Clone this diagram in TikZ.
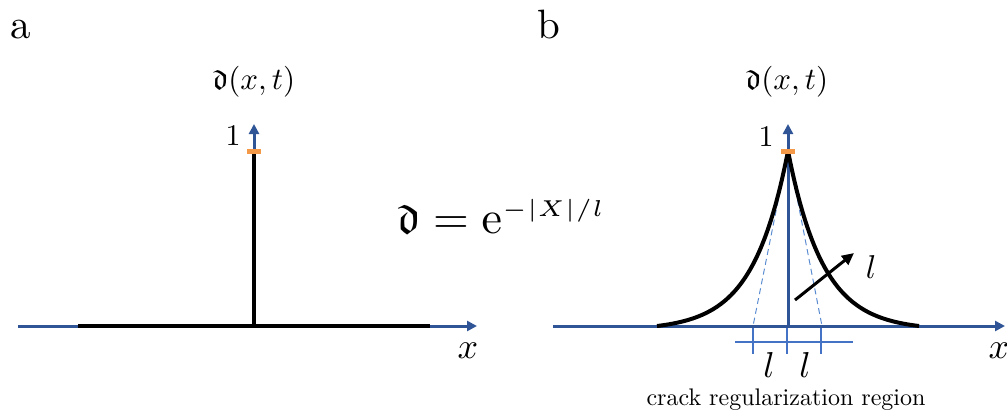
\documentclass[tikz,border=0pt]{standalone}
\usepackage{graphicx}
\usepackage{amssymb}
\usetikzlibrary{arrows.meta}
\definecolor{axisblue}{RGB}{47,85,151}
\definecolor{tickblue}{RGB}{68,114,196}
\definecolor{dashblue}{RGB}{91,140,210}
\definecolor{markorange}{RGB}{244,153,72}
\tikzset{
  axisline/.style={draw=axisblue, line width=1.5pt, -{Triangle[length=5pt,width=5pt]}},
  blackline/.style={draw=black, line width=2.2pt},
  orangemark/.style={draw=markorange, line width=2.5pt},
  ticklines/.style={draw=tickblue, line width=1pt},
  dashline/.style={draw=dashblue, line width=0.5pt, dash pattern=on 3pt off 2pt},
  curveline/.style={draw=black, line width=2pt, line join=round},
  larrow/.style={draw=black, line width=1.5pt, -{Triangle[length=6pt,width=5.5pt]}},
  lbl/.style={inner sep=0pt, anchor=base},
}
\newcommand{\sz}[2]{\scalebox{#1}{#2}}
\begin{document}
\begin{tikzpicture}[x=0.5pt,y=-0.5pt]
\useasboundingbox (0,0) rectangle (1007,414);
% ---------- panel a ----------
\node[lbl] (la) at (21,38) {\sz{2.05}{a}};
\coordinate (aL) at (18,326);
\coordinate (aR) at (477,326);
\coordinate (aO) at (254,326);
\coordinate (aT) at (254,124);
\coordinate (aP) at (254,151);
\coordinate (aB1) at (78,326);
\coordinate (aB2) at (430,326);
\coordinate (aM1) at (247,151);
\coordinate (aM2) at (261,151);
\draw[axisline] (aL) -- (aR);
\draw[axisline] (aO) -- (aT);
\draw[blackline] (aB1) -- (aB2);
\draw[blackline] (aO) -- (aP);
\draw[orangemark] (aM1) -- (aM2);
\node[lbl] (ya) at (254,89) {\sz{1.55}{$\mathfrak{d}(x,t)$}};
\node[lbl] (onea) at (233,145) {\sz{1.5}{$1$}};
\node[lbl] (xa) at (468,358) {\sz{1.8}{$x$}};
% ---------- formula ----------
\node[inner sep=0pt, anchor=base west] (eq) at (397,233)
  {\sz{2.3}{$\mathfrak{d} = \mathrm{e}^{\scriptscriptstyle -|X|/l}$}};
% ---------- panel b ----------
\node[lbl] (lb) at (549,38) {\sz{2.05}{b}};
\coordinate (bL) at (553,326);
\coordinate (bR) at (1005,326);
\coordinate (bO) at (788,326);
\coordinate (bT) at (788,124);
\coordinate (bP) at (788,151);
\coordinate (bM1) at (781,151);
\coordinate (bM2) at (795,151);
\coordinate (dL) at (753,326);
\coordinate (dR) at (822,326);
% dashed tangents
\draw[dashline] (bP) -- (dL);
\draw[dashline] (bP) -- (dR);
% ticks
\coordinate (tH1) at (735,342);
\coordinate (tH2) at (853,342);
\coordinate (t1a) at (753,326);
\coordinate (t1b) at (753,354);
\coordinate (t2a) at (787,326);
\coordinate (t2b) at (787,354);
\coordinate (t3a) at (821,326);
\coordinate (t3b) at (821,354);
\draw[ticklines] (tH1) -- (tH2);
\draw[ticklines] (t1a) -- (t1b);
\draw[ticklines] (t2a) -- (t2b);
\draw[ticklines] (t3a) -- (t3b);
% axes
\draw[axisline] (bL) -- (bR);
\draw[axisline] (bO) -- (bT);
% curve
\draw[curveline] plot[domain=-131:0, samples=90] ({788+\x},{326-179.3*(exp(\x/35)-0.0237)})
  -- plot[domain=0:131, samples=90] ({788+\x},{326-179.3*(exp(-\x/35)-0.0237)});
\draw[orangemark] (bM1) -- (bM2);
% l arrow
\coordinate (lA) at (795,300);
\coordinate (lB) at (854,253);
\draw[larrow] (lA) -- (lB);
\node[lbl] (lnode) at (871,278) {\sz{1.65}{$l$}};
\node[lbl] (yb) at (787,89) {\sz{1.55}{$\mathfrak{d}(x,t)$}};
\node[lbl] (oneb) at (766,146) {\sz{1.5}{$1$}};
\node[lbl] (xb) at (999,358) {\sz{1.8}{$x$}};
\node[lbl] (l1) at (769,377) {\sz{1.8}{$l$}};
\node[lbl] (l2) at (805,377) {\sz{1.8}{$l$}};
\node[lbl] (crr) at (786,405) {\sz{1.2}{crack regularization region}};
\end{tikzpicture}
\end{document}
